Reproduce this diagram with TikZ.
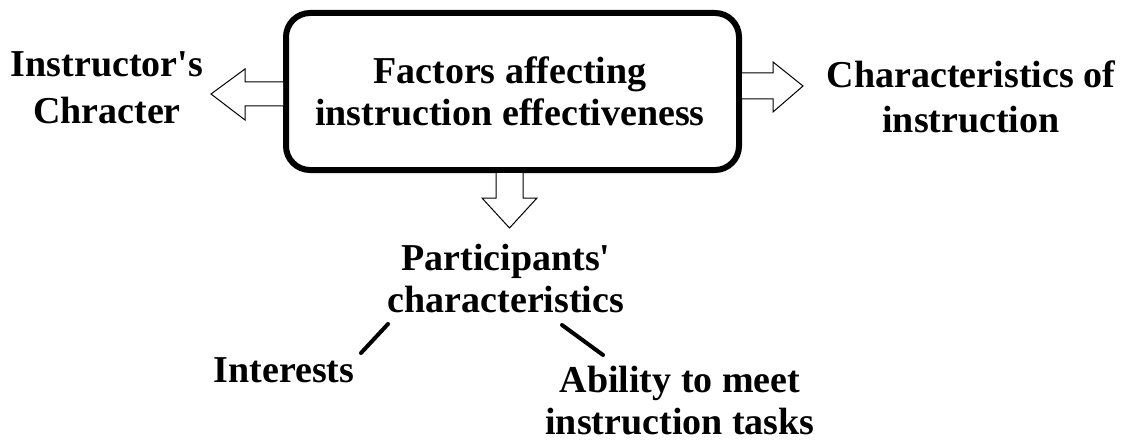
\documentclass[tikz,border=0pt]{standalone}
\usepackage{fontspec}
\setmainfont{Liberation Serif}
\begin{document}
\begin{tikzpicture}[x=1pt,y=-1pt,
  lbl/.style={font=\fontsize{38}{42}\selectfont\bfseries, align=center, anchor=base, inner sep=0pt},
  blockarrow/.style={draw=black, line width=1pt, fill=white, line join=miter},
  link/.style={draw=black, line width=4pt, line cap=round}]
\useasboundingbox (0,0) rectangle (1123,441);
% main box
\draw[line width=6pt, rounded corners=24pt] (286,13) rectangle (739,170);
\node[lbl] (main) at (510,125) {Factors affecting\\instruction effectiveness};
% left arrow
\draw[blockarrow] (283,82) -- (245,82) -- (245,69) -- (211,94) -- (245,120) -- (245,106) -- (283,106);
% right arrow
\draw[blockarrow] (742,73) -- (773,73) -- (773,62) -- (803,86) -- (773,112) -- (773,99) -- (742,99);
% down arrow
\draw[blockarrow] (496,173) -- (496,198) -- (482,198) -- (509.5,228) -- (537,198) -- (523,198) -- (523,173);
\node[lbl] (instr) at (107,123) {Instructor\textquotesingle s\\[4pt]Chracter};
\node[lbl] (charac) at (971,132) {Characteristics of\\[3pt]instruction};
\node[lbl] (part) at (506,312) {Participants\textquotesingle\\characteristics};
\node[lbl] (inter) at (284,382) {Interests};
\node[lbl, text depth=0pt] (abil) at (680,434) {Ability to meet\\instruction tasks};
\coordinate (l1a) at (388,324);
\coordinate (l1b) at (361,353);
\coordinate (l2a) at (562,325);
\coordinate (l2b) at (603,355);
\draw[link] (l1a) -- (l1b);
\draw[link] (l2a) -- (l2b);
\end{tikzpicture}
\end{document}
